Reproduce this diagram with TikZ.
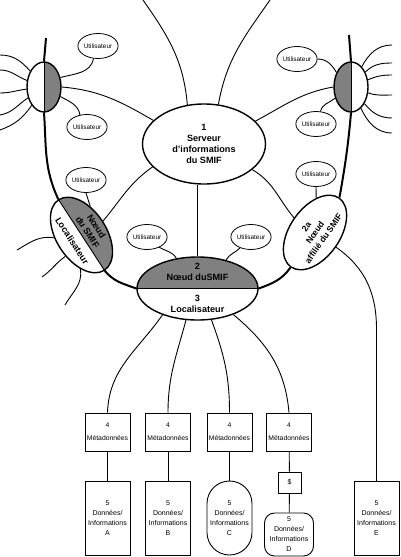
\documentclass[tikz,border=0pt]{standalone}
\usepackage{fontspec}
\setmainfont{Liberation Sans}
\usetikzlibrary{shapes.geometric,calc}
\definecolor{SmifGray}{RGB}{128,128,128}

\begin{document}
\begin{tikzpicture}[
  x=1pt,
  y=1pt,
  bigell/.style={
    ellipse,
    draw,
    line width=1.4pt,
    inner sep=0pt,
    align=center,
    font=\bfseries\fontsize{9.1}{11}\selectfont
  },
  halfell/.style={
    ellipse,
    draw,
    line width=1.4pt,
    inner sep=0pt,
    minimum width=34pt,
    minimum height=50pt
  },
  user/.style={
    ellipse,
    draw,
    line width=0.8pt,
    inner sep=0pt,
    minimum width=32pt,
    minimum height=25pt,
    font=\fontsize{6.4}{7}\selectfont
  },
  meta/.style={
    rectangle,
    draw,
    line width=0.9pt,
    inner sep=0pt,
    minimum width=45pt,
    minimum height=38pt,
    align=center,
    font=\fontsize{6.8}{13}\selectfont
  },
  datab/.style={
    rectangle,
    draw,
    line width=0.9pt,
    inner sep=0pt,
    minimum width=45pt,
    minimum height=74pt,
    align=center,
    font=\fontsize{7}{10}\selectfont
  },
  lbl/.style={align=center, inner sep=0pt, font=\bfseries\fontsize{9.1}{10.5}\selectfont},
  backbone/.style={line width=2pt},
  link/.style={line width=0.9pt}
]
\useasboundingbox (0,0) rectangle (400,-557);

% Top: information server and the two outer nodes
\node[bigell, minimum width=123pt, minimum height=80pt] (server) at (204,-144) {1\\Serveur\\d'informations\\du SMIF};
\node[halfell, path picture={\fill[SmifGray] (path picture bounding box.north) rectangle (path picture bounding box.south east);}] (lnode) at (44,-87) {};
\node[halfell, path picture={\fill[SmifGray] (path picture bounding box.north west) rectangle (path picture bounding box.south);}] (rnode) at (351,-87) {};
\draw[link] (lnode.north) -- (lnode.south);
\draw[link] (rnode.north) -- (rnode.south);

% Middle: SMIF node / locator, tilted locator, affiliated node
\node[bigell, minimum width=121pt, minimum height=63pt, path picture={\fill[SmifGray] (path picture bounding box.north west) rectangle (path picture bounding box.east);}] (noeud) at (197.5,-288.5) {};
\draw[link] (noeud.west) -- (noeud.east);
\node[lbl] (noeudtop) at (197.5,-272) {2\\Nœud duSMIF};
\node[lbl] (noeudbot) at (197.5,-304) {3\\Localisateur};

\begin{scope}[shift={(81.5,-235)}, rotate=-57]
  \fill[SmifGray] (-42,0) arc[start angle=180, end angle=0, x radius=42, y radius=25] -- cycle;
  \node[bigell, minimum width=84pt, minimum height=50pt, transform shape] (loc) at (0,0) {};
  \draw[link] (loc.west) -- (loc.east);
  \node[lbl, transform shape] (loctop) at (1,12) {Nœud\\du SMIF};
  \node[lbl, transform shape] (locbot) at (0,-11) {Localisateur};
\end{scope}

\node[bigell, minimum width=84pt, minimum height=50pt, rotate=55, font=\bfseries\fontsize{8.6}{10.5}\selectfont] (aff) at (315,-232.5) {2a\\Nœud\\affilié du SMIF};

% Users
\node[user] (u1) at (98,-46) {Utilisateur};
\node[user] (u2) at (87,-127) {Utilisateur};
\node[user] (u3) at (86,-180) {Utilisateur};
\node[user] (u4) at (147,-237) {Utilisateur};
\node[user] (u5) at (251,-237) {Utilisateur};
\node[user] (u6) at (297,-59) {Utilisateur};
\node[user] (u7) at (316,-124) {Utilisateur};
\node[user] (u8) at (316,-174) {Utilisateur};

% Bottom: metadata and data stores
\node[meta] (metaA) at (107.5,-432) {4\\Métadonnées};
\node[meta] (metaB) at (168,-432) {4\\Métadonnées};
\node[meta] (metaC) at (229.5,-432) {4\\Métadonnées};
\node[meta] (metaD) at (289,-432) {4\\Métadonnées};
\node[meta, minimum width=23pt, minimum height=21pt, font=\fontsize{7}{8}\selectfont] (fee) at (289.5,-482.5) {\$};

\node[datab] (dataA) at (107.5,-518) {5\\Données/\\Informations\\A};
\node[datab] (dataB) at (168,-518) {5\\Données/\\Informations\\B};
\node[datab, rounded corners=22.5pt] (dataC) at (229.5,-518) {5\\Données/\\Informations\\C};
\node[datab, minimum width=49pt, minimum height=43pt, rounded corners=10pt] (dataD) at (289,-534.5) {5\\Données/\\Informations\\D};
\node[datab] (dataE) at (376.5,-518.5) {5\\Données/\\Informations\\E};

% Backbone
\coordinate (ltop) at (46,-38);
\coordinate (rtop) at (349,-35);
\draw[backbone] (ltop) -- (lnode.north);
\draw[backbone] (lnode.south) to[out=-86, in=115] (loc.west);
\draw[backbone] (loc.east) to[out=-50, in=160] (noeud.west);
\draw[backbone] (rtop) -- (rnode.north);
\draw[backbone] (rnode.south) to[out=-95, in=80] (aff.east);
\draw[backbone] (aff.west) to[out=235, in=20] (noeud.east);

% Server links
\coordinate (stl) at (143,0);
\coordinate (str) at (270,0);
\draw[link] (stl) to[out=-55, in=95] (server.113);
\draw[link] (str) to[out=235, in=80] (server.70);
\draw[link] (lnode.east) to[out=-5, in=150] (server.155);
\draw[link] (server.24) to[out=28, in=190] (rnode.west);
\draw[link] (server.204) to[out=215, in=50] (loc.north);
\draw[link] (server.-28) to[out=-30, in=130] (aff.north);
\draw[link] (server.south -| noeud.north) -- (noeud.north);

% User links
\draw[link] (lnode.30) to[out=15, in=-100] (u1.250);
\draw[link] (lnode.-30) to[out=-30, in=100] (u2.120);
\draw[link] (u3.south) -- (loc.130);
\draw[link] (u4.-40) to[out=-30, in=120] (noeud.125);
\draw[link] (u5.225) to[out=-135, in=60] (noeud.45);
\draw[link] (u6.east) to[out=0, in=120] (rnode.135);
\draw[link] (u7.70) to[out=80, in=220] (rnode.215);
\draw[link] (u8.south) -- (aff.33);

% Loose ends
\foreach \a/\y/\i [count=\k] in {131/55/0, 159/70/0, 187/93/0, 214/115/10, 236/130/20} {
  \coordinate (lw\k) at (0,-\y);
  \draw[link] (lnode.\a) to[out=\a, in=\i] (lw\k);
}
\foreach \a/\y [count=\k] in {62/45, 46/63, 23/75, -19/95, -51/118, -65/133} {
  \coordinate (rw\k) at (392,-\y);
  \draw[link] (rnode.\a) to[out=\a, in=180] (rw\k);
}
\coordinate (lc1) at (17,-250);
\coordinate (lc2) at (42,-277);
\coordinate (lc3) at (65,-305);
\draw[link] (loc.243) to[out=170, in=30] (lc1);
\draw[link] (loc.290) to[out=215, in=35] (lc2);
\draw[link] (loc.325) to[out=-80, in=60] (lc3);

% Metadata links
\draw[link] (noeud.217) to[out=235, in=88] (metaA.north);
\draw[link] (noeud.250) to[out=255, in=90] (metaB.north);
\draw[link] (noeud.294) to[out=290, in=90] (metaC.north);
\draw[link] (noeud.324) to[out=-40, in=95] (metaD.north);
\draw[link] (metaA) -- (dataA);
\draw[link] (metaB) -- (dataB);
\draw[link] (metaC) -- (dataC);
\draw[link] (metaD) -- (fee);
\draw[link] (fee) -- (dataD);
\draw[link] (aff.south) to[out=-35, in=90] ($(dataE.north)+(0,152)$) -- (dataE.north);
\end{tikzpicture}
\end{document}
